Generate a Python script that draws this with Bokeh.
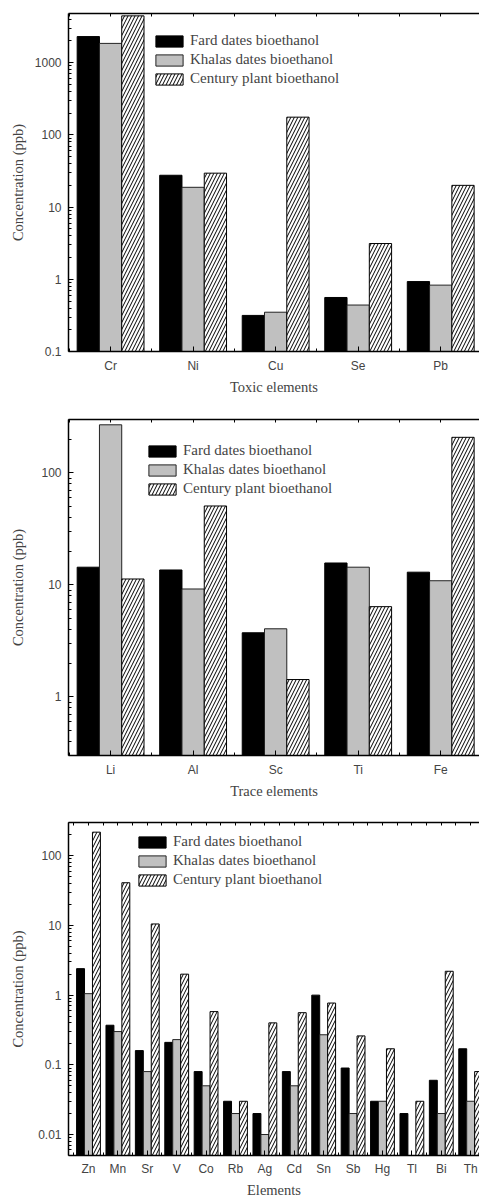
import math
import numpy as np
from bokeh.plotting import figure
from bokeh.layouts import column
from bokeh.models import Range1d, FixedTicker, LinearAxis, NumeralTickFormatter, ColumnDataSource
from bokeh.transform import dodge
from bokeh.embed import file_html
from bokeh.resources import INLINE

nan = float("nan")

series_names = ["Fard dates bioethanol", "Khalas dates bioethanol", "Century plant bioethanol"]

toxic_elements = ["Cr", "Ni", "Cu", "Se", "Pb"]
toxic_fard = [2300, 27.6, 0.316, 0.56, 0.93]
toxic_khalas = [1850, 18.8, 0.35, 0.44, 0.83]
toxic_century = [4450, 29.5, 176, 3.13, 20]

trace_elements = ["Li", "Al", "Sc", "Ti", "Fe"]
trace_fard = [14.4, 13.6, 3.74, 15.7, 13.0]
trace_khalas = [269, 9.2, 4.06, 14.4, 10.9]
trace_century = [11.3, 50.7, 1.43, 6.4, 208]

other_elements = ["Zn", "Mn", "Sr", "V", "Co", "Rb", "Ag", "Cd", "Sn", "Sb", "Hg", "Tl", "Bi", "Th"]
other_fard = [2.4, 0.37, 0.16, 0.21, 0.08, 0.03, 0.02, 0.08, 1.0, 0.09, 0.03, 0.02, 0.06, 0.17]
other_khalas = [1.05, 0.30, 0.08, 0.23, 0.05, 0.02, 0.01, 0.05, 0.27, 0.02, 0.03, nan, 0.02, 0.03]
other_century = [218, 41, 10.5, 2.0, 0.58, 0.03, 0.4, 0.56, 0.77, 0.26, 0.17, 0.03, 2.2, 0.08]

SERIF = "Liberation Serif"
SANS = "Liberation Sans"


def make_panel(cats, fard, khalas, century, xlabel, y_start, y_end, x_start, x_end,
               height, border_top, border_bottom, legend_xy, ylab_standoff,
               xlab_standoff, xtick_standoff):
    n = len(cats)
    src = ColumnDataSource(dict(x=list(range(n)), fard=fard, khalas=khalas, century=century))
    p = figure(width=479, height=height, y_axis_type="log",
               x_range=Range1d(x_start, x_end), y_range=Range1d(y_start, y_end),
               output_backend="svg", toolbar_location=None,
               min_border_left=68, min_border_right=0,
               min_border_top=border_top, min_border_bottom=border_bottom)
    p.outline_line_color = None
    p.grid.visible = False
    p.background_fill_color = "white"
    w = 0.27
    p.vbar(x=dodge("x", -w), top="fard", bottom=y_start, width=w, source=src,
           fill_color="black", line_color="black", line_width=1, legend_label=series_names[0])
    p.vbar(x=dodge("x", 0), top="khalas", bottom=y_start, width=w, source=src,
           fill_color="#c0c0c0", line_color="#222222", line_width=1, legend_label=series_names[1])
    p.vbar(x=dodge("x", w), top="century", bottom=y_start, width=w, source=src,
           fill_color="white", line_color="black", line_width=1,
           hatch_pattern="/", hatch_color="black", hatch_scale=7, hatch_weight=1,
           legend_label=series_names[2])

    # x axis
    halves = [i + 0.5 for i in range(-1, n)]
    xt = FixedTicker(ticks=list(range(n)), minor_ticks=halves)
    xa = p.xaxis[0]
    xa.ticker = xt
    xa.major_label_overrides = {i: c for i, c in enumerate(cats)}
    xa.major_label_text_font = SANS
    xa.major_label_text_font_size = "12px"
    xa.major_label_standoff = xtick_standoff
    xa.axis_label = xlabel
    xa.axis_label_text_font = SERIF
    xa.axis_label_text_font_style = "normal"
    xa.axis_label_text_font_size = "14.5px"
    xa.axis_label_standoff = xlab_standoff
    xa.major_tick_in = 5
    xa.major_tick_out = 0
    xa.minor_tick_in = 3
    xa.minor_tick_out = 0
    xa.axis_line_width = 1.5

    # top axis (frame line with small ticks only, no labels)
    tt = FixedTicker(ticks=[], minor_ticks=sorted(list(range(n)) + halves))
    ta = LinearAxis(ticker=tt, major_label_standoff=0,
                    major_tick_in=0, major_tick_out=0, minor_tick_in=3, minor_tick_out=0,
                    axis_line_width=1.5)
    p.add_layout(ta, "above")

    # y axis
    lo = math.floor(math.log10(y_start))
    hi = math.ceil(math.log10(y_end))
    majors = [10.0 ** k for k in range(lo, hi + 1) if y_start <= 10.0 ** k <= y_end]
    minors = [m * 10.0 ** k for k in range(lo, hi + 1) for m in range(2, 10)
              if y_start <= m * 10.0 ** k <= y_end]
    ya = p.yaxis[0]
    ya.ticker = FixedTicker(ticks=majors, minor_ticks=minors)
    ya.formatter = NumeralTickFormatter(format="0.[00]")
    ya.major_label_text_font = SANS
    ya.major_label_text_font_size = "12px"
    ya.major_label_standoff = 7
    ya.axis_label = "Concentration (ppb)"
    ya.axis_label_text_font = SERIF
    ya.axis_label_text_font_style = "normal"
    ya.axis_label_text_font_size = "14.5px"
    ya.axis_label_standoff = ylab_standoff
    ya.major_tick_in = 5
    ya.major_tick_out = 0
    ya.minor_tick_in = 3
    ya.minor_tick_out = 0
    ya.axis_line_width = 1.5

    lg = p.legend[0]
    lg.location = legend_xy
    lg.border_line_color = None
    lg.background_fill_alpha = 0
    lg.padding = 0
    lg.margin = 0
    lg.spacing = 2
    lg.glyph_width = 34
    lg.glyph_height = 14
    lg.label_height = 14
    lg.label_standoff = 4
    lg.label_text_font = SERIF
    lg.label_text_font_size = "15px"
    return p


p1 = make_panel(toxic_elements, toxic_fard, toxic_khalas, toxic_century, "Toxic elements",
                0.1, 4800, -0.51, 4.47, 405, 13, 54, (84, 264), 6, 3, 7)
p2 = make_panel(trace_elements, trace_fard, trace_khalas, trace_century, "Trace elements",
                0.3, 300, -0.51, 4.47, 405, 14, 55, (77, 258), 12, 3, 7)
p3 = make_panel(other_elements, other_fard, other_khalas, other_century, "Elements",
                0.005, 300, -0.68, 13.3, 390, 12, 44, (67, 267), 9, 3, 6)

layout = column(p1, p2, p3, spacing=0)
open("out.html", "w").write(file_html(layout, INLINE))
